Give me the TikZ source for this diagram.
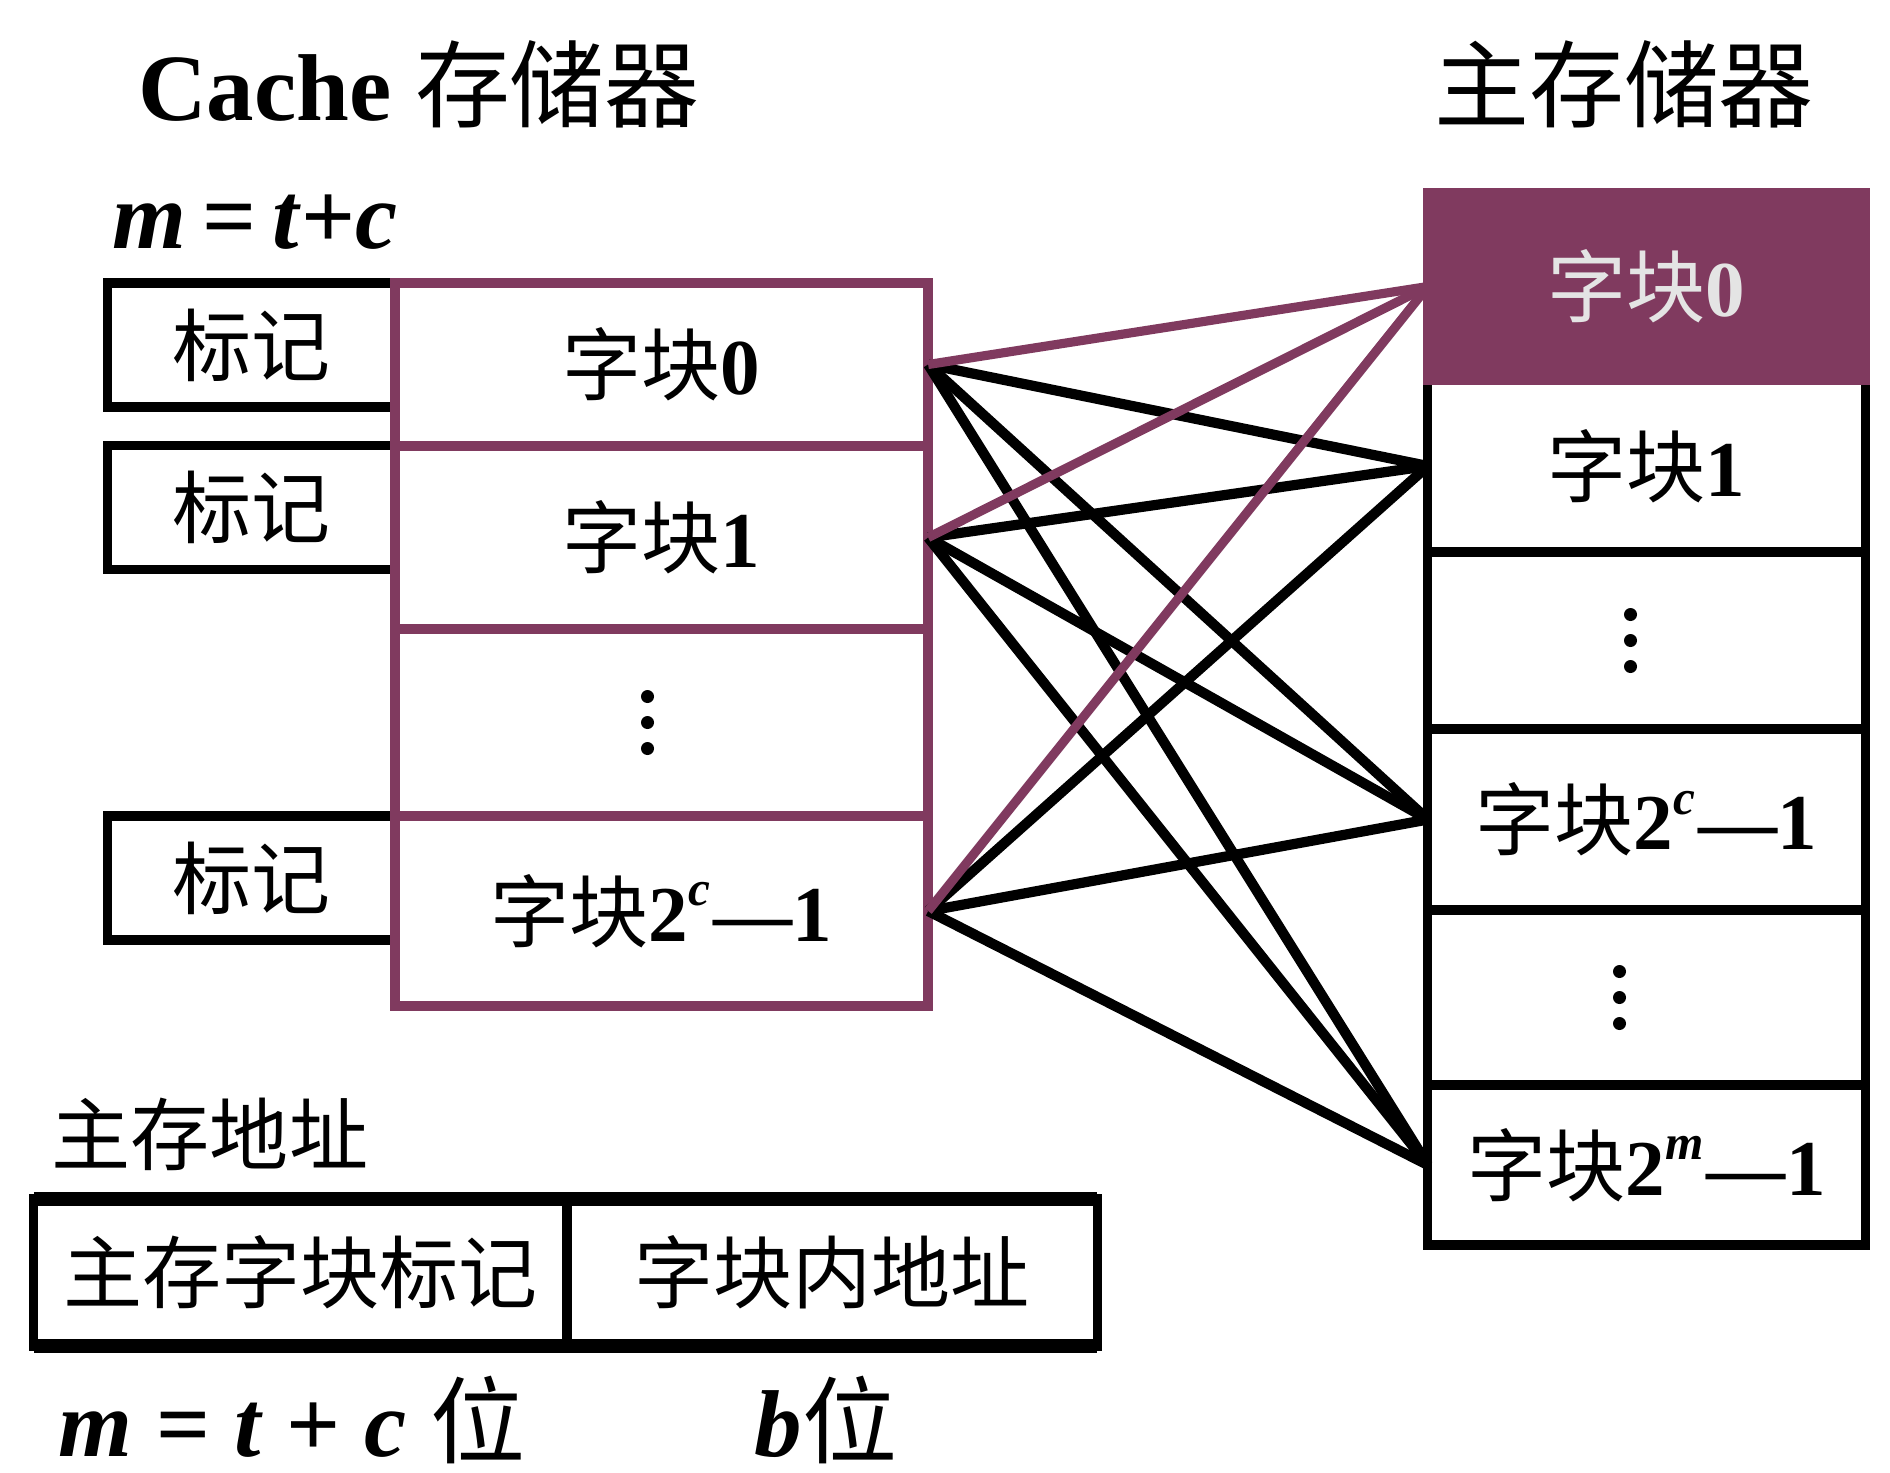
\documentclass[tikz,border=0pt]{standalone}
\usepackage{fontspec}
\setmainfont{Liberation Serif}
\newfontfamily\cjk{Noto Sans CJK SC}
\usetikzlibrary{calc}
\definecolor{plum}{HTML}{803A5F}
\definecolor{txtgray}{HTML}{E4E4E4}
\newcommand{\zk}{{\cjk 字块}}
\newcommand{\bi}[1]{\textbf{\textit{#1}}}
\tikzset{
  box/.style={draw=black, line width=2.6pt, inner sep=0pt, outer sep=0pt,
    font=\fontsize{22.5}{27}\selectfont},
  cbox/.style={box, draw=plum, line width=2.7pt},
  mbox/.style={box, minimum width=4.37cm},
  link/.style={line width=2.9pt, black},
  plink/.style={line width=2.6pt, plum},
  big/.style={font=\fontsize{27}{32}\selectfont, inner sep=0pt},
  lbl/.style={font=\fontsize{22.5}{27}\selectfont, inner sep=0pt},
}
\begin{document}
\begin{tikzpicture}[x=0.01cm, y=-0.01cm]
\useasboundingbox (0,0) rectangle (1890,1472);
\fill[white] (0,0) rectangle (1890,1472);

% titles
\node[big] (ctitle) at (419,84) {\textbf{Cache} {\cjk 存储器}};
\node[big] (mtitle) at (1624,84) {{\cjk 主存储器}};
\node[big] (eq) at (255,222) {\bi{m}\,\textbf{=}\,\bi{t}\textbf{+}\bi{c}};

% tag boxes
\node[box, minimum width=2.87cm, minimum height=1.24cm] (tag0) at (251.5,345) {{\cjk 标记}};
\node[box, minimum width=2.87cm, minimum height=1.24cm] (tag1) at (251.5,507.5) {{\cjk 标记}};
\node[box, minimum width=2.87cm, minimum height=1.24cm] (tag2) at (251.5,878) {{\cjk 标记}};

% cache blocks
\node[cbox, minimum width=5.33cm, minimum height=1.63cm] (c0) at (661.5,364.5) {\zk\textbf{0}};
\node[cbox, minimum width=5.33cm, minimum height=1.83cm] (c1) at (661.5,537.5) {\zk\textbf{1}};
\node[cbox, minimum width=5.33cm, minimum height=1.87cm] (cd) at (661.5,722.5) {};
\node[cbox, minimum width=5.33cm, minimum height=1.90cm] (c2) at (661.5,911) {\zk\textbf{2}\raisebox{0.45em}{\fontsize{14}{17}\selectfont\bi{c}}\kern1pt\textbf{—1}};
\foreach \d in {-26,0,26} \fill ($(cd.center)+(-14,\d)$) circle (0.065cm);

% main memory blocks
\node[mbox, minimum height=1.72cm] (m1) at (1646.5,466) {\zk\textbf{1}};
\node[mbox, minimum height=1.77cm] (md1) at (1646.5,640.5) {};
\node[mbox, minimum height=1.81cm] (m2) at (1646.5,819.5) {\zk\textbf{2}\raisebox{0.45em}{\fontsize{14}{17}\selectfont\bi{c}}\kern1pt\textbf{—1}};
\node[mbox, minimum height=1.75cm] (md2) at (1646.5,997.5) {};
\node[mbox, minimum height=1.60cm] (m3) at (1646.5,1165) {\zk\textbf{2}\raisebox{0.45em}{\fontsize{14}{17}\selectfont\bi{m}}\kern1pt\textbf{—1}};
\node[mbox, minimum height=1.87cm, draw=plum, fill=plum, text=txtgray] (m0) at (1646.5,286.5) {\zk\textbf{0}};
\foreach \d in {-26,0,26} \fill ($(md1.center)+(-16,\d)$) circle (0.065cm);
\foreach \d in {-26,0,26} \fill ($(md2.center)+(-27,\d)$) circle (0.065cm);

% connectors
\foreach \c in {c0,c1,c2} {
  \foreach \m in {m1,m2,m3} \draw[link] (\c.east) -- (\m.west);
  \draw[plink] (\c.east) -- (m0.west);
}

% main memory address
\node[lbl, anchor=west] (addr) at (51,1134) {{\cjk 主存地址}};
\node[box, minimum width=5.33cm, minimum height=1.47cm] (tagf) at (300.5,1272.5) {{\cjk 主存字块标记}};
\node[box, minimum width=5.30cm, minimum height=1.47cm] (offf) at (832,1272.5) {{\cjk 字块内地址}};
\draw[line width=3.8pt] (tagf.north west) -- (offf.north east);
\draw[line width=3.8pt] (tagf.south west) -- (offf.south east);
\node[big] (bits1) at (292,1420) {\bi{m} \textbf{=} \bi{t} \textbf{+} \bi{c} {\cjk 位}};
\node[big] (bits2) at (826,1420) {\bi{b}{\cjk 位}};
\end{tikzpicture}
\end{document}
